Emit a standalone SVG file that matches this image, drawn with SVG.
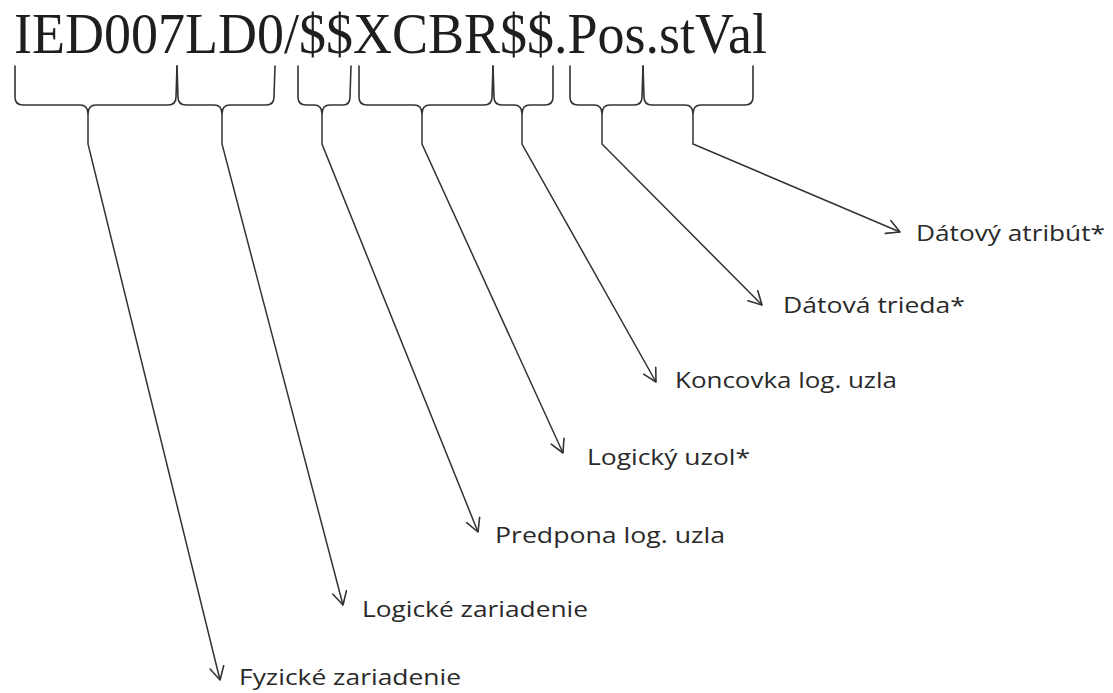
<svg xmlns="http://www.w3.org/2000/svg" width="1113" height="693" viewBox="0 0 1113 693">
<defs>
<style>
.title{font-family:"Liberation Serif","Times New Roman",serif;font-size:57px;fill:#1e1e1e}
.lbl{font-family:"Open Sans","Noto Sans",sans-serif;font-size:21px;fill:#2a2a2a}
.brace{fill:none;stroke:#333;stroke-width:1.6;stroke-linejoin:round;stroke-linecap:round}
.conn{fill:none;stroke:#333;stroke-width:1.5;marker-end:url(#arr)}
</style>
<marker id="arr" viewBox="-14 -8 16 16" refX="0" refY="0" markerWidth="16" markerHeight="16" markerUnits="userSpaceOnUse" orient="auto">
<path d="M-13,-7 L0,0 L-13,7" fill="none" stroke="#333" stroke-width="1.6" stroke-linecap="round" stroke-linejoin="round"/>
</marker>
</defs>
<rect width="1113" height="693" fill="#fff"/>
<g id="title"><text class="title" x="14" y="53" textLength="753" lengthAdjust="spacingAndGlyphs">IED007LD0/$$XCBR$$.Pos.stVal</text></g>
<g id="braces">
<path class="brace" d="M15,66 L15,97 Q15,105 23,105 L80,105 Q88,105 88,114 M88,114 Q88,105 96,105 L168,105 Q176,105 176,97 L177,66"/>
<path class="brace" d="M177,66 L178,97 Q178,105 186,105 L214,105 Q222,105 222,114 M222,114 Q222,105 230,105 L266,105 Q274,105 274,97 L275,66"/>
<path class="brace" d="M298,66 L298,97 Q298,105 306,105 L314,105 Q322,105 322,114 M322,114 Q322,105 330,105 L343,105 Q350,105 350,97 L351,66"/>
<path class="brace" d="M359,66 L359,97 Q359,105 367,105 L414,105 Q422,105 422,114 M422,114 Q422,105 430,105 L484,105 Q492,105 492,97 L493,66"/>
<path class="brace" d="M493,66 L494,97 Q494,105 502,105 L514,105 Q522,105 522,114 M522,114 Q522,105 530,105 L545,105 Q553,105 553,97 L553,66"/>
<path class="brace" d="M570,66 L570,97 Q570,105 578,105 L594,105 Q602,105 602,114 M602,114 Q602,105 610,105 L634,105 Q642,105 642,97 L643,66"/>
<path class="brace" d="M643,66 L644,97 Q644,105 652,105 L685,105 Q693,105 693,114 M693,114 Q693,105 701,105 L745,105 Q753,105 753,97 L753,66"/>
</g>
<g id="connectors">
<path class="conn" d="M88,114 L88,144 L220,680"/>
<path class="conn" d="M222,114 L222,144 L343,605"/>
<path class="conn" d="M322,114 L322,144 L478,532"/>
<path class="conn" d="M422,114 L422,144 L563,453"/>
<path class="conn" d="M522,114 L522,144 L656,382"/>
<path class="conn" d="M602,114 L602,144 L762,305"/>
<path class="conn" d="M693,114 L693,144 L900,232"/>
</g>
<g id="n-fyz"><text class="lbl" x="239" y="685" textLength="222" lengthAdjust="spacingAndGlyphs">Fyzické zariadenie</text></g>
<g id="n-logz"><text class="lbl" x="362" y="617" textLength="226" lengthAdjust="spacingAndGlyphs">Logické zariadenie</text></g>
<g id="n-pred"><text class="lbl" x="495" y="543" textLength="230" lengthAdjust="spacingAndGlyphs">Predpona log. uzla</text></g>
<g id="n-lu"><text class="lbl" x="587" y="465" textLength="163" lengthAdjust="spacingAndGlyphs">Logický uzol*</text></g>
<g id="n-konc"><text class="lbl" x="675" y="388" textLength="222" lengthAdjust="spacingAndGlyphs">Koncovka log. uzla</text></g>
<g id="n-dt"><text class="lbl" x="783" y="313" textLength="182" lengthAdjust="spacingAndGlyphs">Dátová trieda*</text></g>
<g id="n-da"><text class="lbl" x="916" y="241" textLength="189" lengthAdjust="spacingAndGlyphs">Dátový atribút*</text></g>
</svg>
